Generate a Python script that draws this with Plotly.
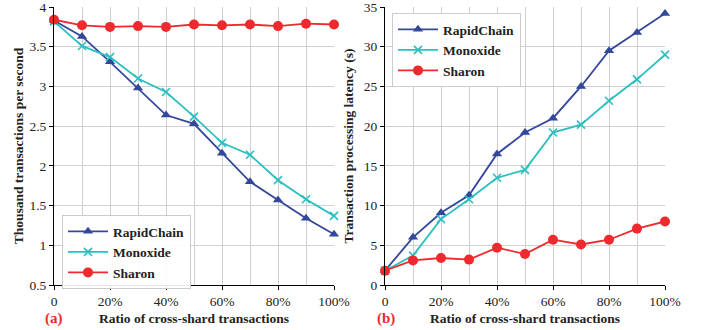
import plotly.graph_objects as go

ratio = [0, 10, 20, 30, 40, 50, 60, 70, 80, 90, 100]
tick_vals = [0, 20, 40, 60, 80, 100]
tick_text = ["0", "20%", "40%", "60%", "80%", "100%"]

tps_rapidchain = [3.83, 3.63, 3.31, 2.98, 2.64, 2.53, 2.16, 1.80, 1.57, 1.34, 1.14]
tps_monoxide = [3.82, 3.51, 3.37, 3.10, 2.93, 2.62, 2.29, 2.14, 1.82, 1.58, 1.37]
tps_sharon = [3.84, 3.77, 3.75, 3.76, 3.75, 3.78, 3.77, 3.78, 3.76, 3.79, 3.78]

lat_rapidchain = [1.8, 6.0, 9.1, 11.3, 16.5, 19.2, 21.0, 25.0, 29.5, 31.8, 34.2]
lat_monoxide = [1.8, 3.7, 8.3, 10.8, 13.5, 14.5, 19.2, 20.2, 23.2, 25.9, 29.0]
lat_sharon = [1.8, 3.1, 3.4, 3.2, 4.7, 3.9, 5.7, 5.1, 5.7, 7.1, 8.0]

names = ["RapidChain", "Monoxide", "Sharon"]
colors = ["#33479b", "#2bbfc0", "#ee2a2e"]
symbols = ["triangle-up", "x-thin", "circle"]
sizes = [9, 8, 10]

FONT = "Times New Roman"
TXT = "#222"
fig = go.Figure()

def add_series(ys, xa, ya, leg, grp):
    for name, y, c, s, sz in zip(names, ys, colors, symbols, sizes):
        marker = dict(symbol=s, size=sz, color=c)
        if s == "x-thin":
            marker["line"] = dict(color=c, width=1.6)
        fig.add_trace(go.Scatter(
            x=ratio, y=y, name=name, mode="lines+markers",
            line=dict(color=c, width=1.8), marker=marker,
            xaxis=xa, yaxis=ya, legend=leg, legendgroup=grp, cliponaxis=False))

add_series([tps_rapidchain, tps_monoxide, tps_sharon], "x", "y", "legend", "a")
add_series([lat_rapidchain, lat_monoxide, lat_sharon], "x2", "y2", "legend2", "b")

W, H = 701, 330
ydom = [1 - 285 / H, 1 - 7 / H]
grid = "#d0d0d0"

def xaxis_cfg(dom, anchor):
    return dict(
        domain=dom, anchor=anchor, automargin=False,
        range=[0, 100], tickvals=tick_vals, ticktext=tick_text,
        showgrid=True, gridcolor=grid, gridwidth=1.2,
        minor=dict(tickvals=[10, 30, 50, 70, 90], showgrid=True, gridcolor=grid,
                   gridwidth=1.2, ticks=""),
        showline=True, linecolor="black", linewidth=1,
        ticks="outside", ticklen=4, tickcolor="black",
        tickfont=dict(family=FONT, size=13.5, color=TXT),
        ticklabeloverflow="allow",
        zeroline=False,
        title=dict(text="Ratio of cross-shard transactions",
                   font=dict(family=FONT, size=13.5, color=TXT, weight="bold"), standoff=5),
    )

def yaxis_cfg(anchor, rng, dt, title, standoff):
    return dict(
        domain=ydom, anchor=anchor, automargin=False,
        range=rng, tickmode="linear", tick0=0, dtick=dt,
        showgrid=True, gridcolor=grid, gridwidth=1.2,
        showline=True, linecolor="black", linewidth=1,
        ticks="outside", ticklen=4, tickcolor="black",
        tickfont=dict(family=FONT, size=13.5, color=TXT),
        ticklabeloverflow="allow",
        zeroline=False,
        title=dict(text=title, font=dict(family=FONT, size=13.5, color=TXT, weight="bold"),
                   standoff=standoff),
    )

legend_common = dict(
    xanchor="left", yanchor="top",
    bgcolor="rgba(255,255,255,0.9)", bordercolor="#cccccc", borderwidth=1,
    font=dict(family=FONT, size=13.5, color=TXT, weight="bold"),
    tracegroupgap=0, itemwidth=40,
)

fig.update_layout(
    width=W, height=H, margin=dict(l=0, r=0, t=0, b=0),
    paper_bgcolor="white", plot_bgcolor="white",
    font=dict(family=FONT, size=13.5, color=TXT),
    xaxis=xaxis_cfg([54 / W, 334 / W], "y"),
    xaxis2=xaxis_cfg([385 / W, 665 / W], "y2"),
    yaxis=yaxis_cfg("x", [0.5, 4.0005], 0.5, "Thousand transactions per second", 2),
    yaxis2=yaxis_cfg("x2", [0, 35.005], 5, "Transaction processing latency (s)", 7),
    legend=dict(x=62 / W, y=1 - 215 / H, **legend_common),
    legend2=dict(x=392 / W, y=1 - 13 / H, **legend_common),
    annotations=[
        dict(text="(a)", x=54.5 / W, y=1 - 318 / H, xref="paper", yref="paper",
             xanchor="center", yanchor="middle", showarrow=False,
             font=dict(family=FONT, size=15, color="#ee2a2e", weight="bold")),
        dict(text="(b)", x=386 / W, y=1 - 318 / H, xref="paper", yref="paper",
             xanchor="center", yanchor="middle", showarrow=False,
             font=dict(family=FONT, size=15, color="#ee2a2e", weight="bold")),
    ],
)
fig.write_html("out.html")
